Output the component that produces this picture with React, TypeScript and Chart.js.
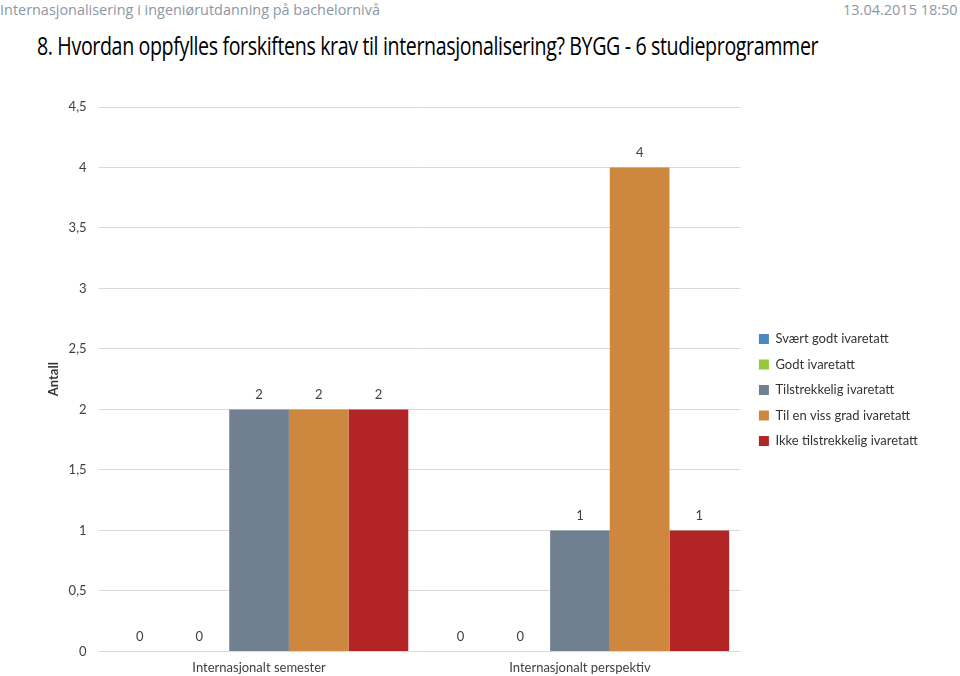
import React, { useEffect, useLayoutEffect, useRef } from "react";
import { Chart, registerables } from "chart.js";

Chart.register(...registerables);

const headerText = "Internasjonalisering i ingeniørutdanning på bachelornivå";
const dateText = "13.04.2015 18:50";
const titleText = "8. Hvordan oppfylles forskiftens krav til internasjonalisering? BYGG - 6 studieprogrammer";
const yAxisTitle = "Antall";

const categories = ["Internasjonalt semester", "Internasjonalt perspektiv"];
const seriesNames = [
  "Svært godt ivaretatt",
  "Godt ivaretatt",
  "Tilstrekkelig ivaretatt",
  "Til en viss grad ivaretatt",
  "Ikke tilstrekkelig ivaretatt",
];
const svaertGodt = [0, 0];
const godt = [0, 0];
const tilstrekkelig = [2, 1];
const vissGrad = [2, 4];
const ikkeTilstrekkelig = [2, 1];
const seriesColors = ["#4A86BF", "#96C83C", "#718091", "#CE873E", "#B22425"];

const yMin = 0;
const yMax = 4.5;
const yStep = 0.5;

const FONT = "Lato, 'Open Sans', sans-serif";

function FitText(props: { text: string; width: number; style: React.CSSProperties }) {
  const ref = useRef<HTMLSpanElement | null>(null);
  useLayoutEffect(() => {
    const el = ref.current;
    if (!el) return;
    el.style.transform = "none";
    const w = el.offsetWidth;
    if (w > 0) el.style.transform = `scaleX(${props.width / w})`;
  }, [props.text, props.width]);
  return (
    <span
      ref={ref}
      style={{
        position: "absolute",
        whiteSpace: "nowrap",
        transformOrigin: "left top",
        ...props.style,
      }}
    >
      {props.text}
    </span>
  );
}

const valueLabels = {
  id: "valueLabels",
  afterDatasetsDraw(chart: any) {
    const ctx = chart.ctx;
    ctx.save();
    ctx.font = `13px ${FONT}`;
    ctx.fillStyle = "#404040";
    ctx.textAlign = "center";
    ctx.textBaseline = "middle";
    chart.data.datasets.forEach((ds: any, di: number) => {
      const meta = chart.getDatasetMeta(di);
      meta.data.forEach((el: any, i: number) => {
        ctx.fillText(String(ds.data[i]), el.x, el.y - 15);
      });
    });
    ctx.restore();
  },
};

const legendShift = {
  id: "legendShift",
  afterLayout(chart: any) {
    if (chart.legend) {
      chart.legend.left += 6;
      chart.legend.right += 6;
      chart.legend.top -= 6;
      chart.legend.bottom -= 6;
    }
  },
};

export default function App() {
  const canvasRef = useRef<HTMLCanvasElement | null>(null);

  useEffect(() => {
    if (!canvasRef.current) return;
    const dataSets = [svaertGodt, godt, tilstrekkelig, vissGrad, ikkeTilstrekkelig];
    const chart = new Chart(canvasRef.current, {
      type: "bar",
      data: {
        labels: categories,
        datasets: dataSets.map((d, i) => ({
          label: seriesNames[i],
          data: d,
          backgroundColor: seriesColors[i],
          borderWidth: 0,
          barPercentage: 1,
          categoryPercentage: 0.93,
        })),
      },
      options: {
        animation: false,
        responsive: false,
        maintainAspectRatio: false,
        layout: { padding: { top: 107, left: 46, right: 38, bottom: -9 } },
        plugins: {
          title: { display: false },
          tooltip: { enabled: false },
          legend: {
            position: "right",
            labels: {
              boxWidth: 10,
              boxHeight: 10,
              padding: 12.5,
              color: "#333333",
              font: { family: FONT, size: 13 },
            },
          },
        },
        scales: {
          x: {
            grid: { display: false, drawTicks: false },
            border: { display: false },
            ticks: { color: "#404040", font: { family: FONT, size: 13 }, padding: 9 },
          },
          y: {
            min: yMin,
            max: yMax,
            ticks: {
              stepSize: yStep,
              color: "#404040",
              font: { family: FONT, size: 13 },
              padding: 12,
              callback: (v: any) => String(v).replace(".", ","),
            },
            grid: { color: "#D9D9D9", drawTicks: false, lineWidth: 1 },
            border: { display: false },
            title: {
              display: true,
              text: yAxisTitle,
              color: "#333333",
              font: { family: FONT, size: 13, weight: "bold" },
              padding: { top: 0, bottom: -5 },
            },
          },
        },
      },
      plugins: [valueLabels, legendShift],
    });
    return () => chart.destroy();
  }, []);

  return (
    <div style={{ position: "absolute", left: 0, top: 0, width: 960, height: 676, background: "#fff", overflow: "hidden" }}>
      <FitText
        text={headerText}
        width={380}
        style={{ left: 0, top: 0, fontFamily: "'Open Sans', sans-serif", fontSize: 15, lineHeight: "18px", color: "#8C97A6" }}
      />
      <FitText
        text={dateText}
        width={115}
        style={{ left: 843, top: 0, fontFamily: "'Open Sans', sans-serif", fontSize: 15, lineHeight: "18px", color: "#8C97A6" }}
      />
      <FitText
        text={titleText}
        width={781}
        style={{ left: 37, top: 30, fontFamily: "'Open Sans', sans-serif", fontSize: 26, lineHeight: "30px", color: "#000", letterSpacing: "-0.5px" }}
      />
      <canvas ref={canvasRef} width={960} height={676} style={{ position: "absolute", left: 0, top: 0 }} />
    </div>
  );
}
